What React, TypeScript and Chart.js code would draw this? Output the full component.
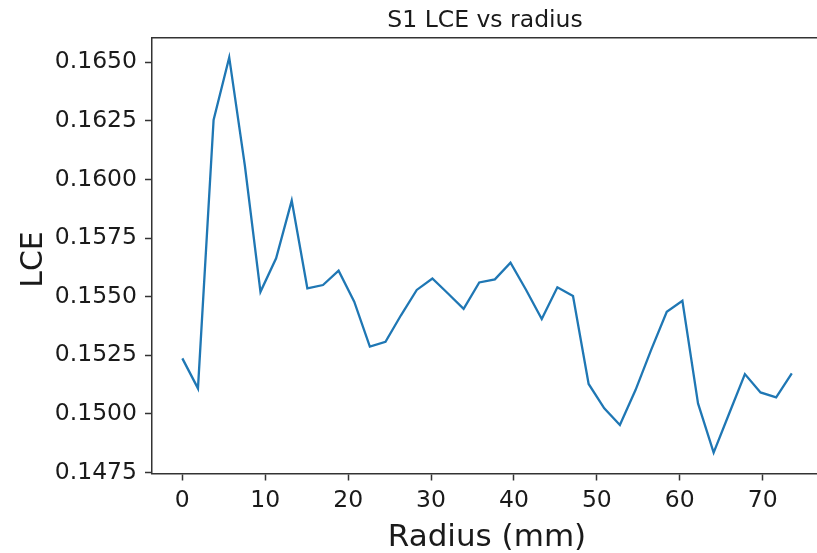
import { useEffect, useRef } from "react";
import { Chart, registerables } from "chart.js";

Chart.register(...registerables);

// radius in mm, one sample every ~1.885 mm
const radius = [
  0, 1.885, 3.77, 5.655, 7.54, 9.425, 11.31, 13.195, 15.08, 16.965,
  18.85, 20.735, 22.62, 24.505, 26.39, 28.275, 30.16, 32.045, 33.93, 35.815,
  37.7, 39.585, 41.47, 43.355, 45.24, 47.125, 49.01, 50.895, 52.78, 54.665,
  56.55, 58.435, 60.32, 62.205, 64.09, 65.975, 67.86, 69.745, 71.63, 73.515,
];

const lce = [
  0.15237, 0.15109, 0.16254, 0.16521, 0.1606, 0.15521, 0.15664, 0.1591, 0.15536, 0.1555,
  0.15611, 0.15479, 0.15287, 0.15308, 0.15422, 0.15529, 0.15578, 0.15514, 0.15448, 0.15561,
  0.15574, 0.15645, 0.15529, 0.15405, 0.1554, 0.15503, 0.15128, 0.15024, 0.14953, 0.15102,
  0.15273, 0.15436, 0.15483, 0.15045, 0.14835, 0.15003, 0.1517, 0.15092, 0.15071, 0.15173,
];

const xTicks = [0, 10, 20, 30, 40, 50, 60, 70];
const yTicks = [0.1475, 0.15, 0.1525, 0.155, 0.1575, 0.16, 0.1625, 0.165];

const titleText = "S1 LCE vs radius";
const xLabel = "Radius (mm)";
const yLabel = "LCE";

const FONT = "'DejaVu Sans', sans-serif";
const INK = "#1a1a1a";
const SPINE = "#333333";

// matplotlib-ish extras: top spine, title and axis labels
// (the axes run a few px past the window's right edge, like the cropped original)
const decorations = {
  id: "decorations",
  afterDraw(chart: any) {
    const { ctx, chartArea } = chart;
    ctx.save();
    ctx.strokeStyle = SPINE;
    ctx.lineWidth = 1.5;
    ctx.beginPath();
    ctx.moveTo(chartArea.left, chartArea.top);
    ctx.lineTo(chartArea.right, chartArea.top);
    ctx.stroke();

    ctx.fillStyle = INK;
    ctx.textAlign = "center";
    ctx.textBaseline = "alphabetic";
    ctx.font = `23.5px ${FONT}`;
    ctx.fillText(titleText, 485, 26.5);
    ctx.font = `31px ${FONT}`;
    ctx.fillText(xLabel, 487, 545.5);
    ctx.translate(41.7, 259.5);
    ctx.rotate(-Math.PI / 2);
    ctx.font = `30px ${FONT}`;
    ctx.fillText(yLabel, 0, 0);
    ctx.restore();
  },
};

const LceChart = () => {
  const canvasRef = useRef<HTMLCanvasElement | null>(null);
  const chartRef = useRef<any>(null);

  useEffect(() => {
    if (!canvasRef.current) return;
    if (chartRef.current) chartRef.current.destroy();

    chartRef.current = new Chart(canvasRef.current, {
      type: "line",
      data: {
        datasets: [
          {
            label: "LCE",
            data: radius.map((x, i) => ({ x, y: lce[i] })),
            borderColor: "#1f77b4",
            backgroundColor: "#1f77b4",
            borderWidth: 2.3,
            pointRadius: 0,
            tension: 0,
            fill: false,
          },
        ],
      },
      options: {
        animation: false,
        responsive: true,
        maintainAspectRatio: false,
        devicePixelRatio: 1,
        layout: { padding: { top: 37.7, left: 0, right: 0, bottom: 0 } },
        scales: {
          x: {
            type: "linear",
            min: -3.66,
            max: 77.16,
            afterBuildTicks: (scale: any) => {
              scale.ticks = xTicks.map((value) => ({ value }));
            },
            afterFit: (scale: any) => {
              scale.height = 79.5;
            },
            ticks: {
              color: INK,
              font: { family: FONT, size: 23.5 },
              padding: 6,
              maxRotation: 0,
              callback: (v: any) => String(v),
            },
            grid: {
              display: true,
              drawOnChartArea: false,
              tickLength: 7,
              tickColor: SPINE,
              tickWidth: 1.5,
            },
            border: { display: true, color: SPINE, width: 1.5 },
          },
          y: {
            type: "linear",
            min: 0.14746,
            max: 0.16605,
            afterBuildTicks: (scale: any) => {
              scale.ticks = yTicks.map((value) => ({ value }));
            },
            afterFit: (scale: any) => {
              scale.width = 152;
            },
            ticks: {
              color: INK,
              font: { family: FONT, size: 23.5 },
              padding: 8,
              callback: (v: any) => Number(v).toFixed(4),
            },
            grid: {
              display: true,
              drawOnChartArea: false,
              tickLength: 7,
              tickColor: SPINE,
              tickWidth: 1.5,
            },
            border: { display: true, color: SPINE, width: 1.5 },
          },
        },
        plugins: {
          legend: { display: false },
          tooltip: { enabled: false },
          title: { display: false },
        },
      },
      plugins: [decorations],
    });

    return () => {
      if (chartRef.current) {
        chartRef.current.destroy();
        chartRef.current = null;
      }
    };
  }, []);

  return <canvas ref={canvasRef} />;
};

export default function App() {
  return (
    <div
      style={{
        position: "fixed",
        left: 0,
        top: 0,
        width: 822,
        height: 553,
        background: "#ffffff",
      }}
    >
      <LceChart />
    </div>
  );
}
